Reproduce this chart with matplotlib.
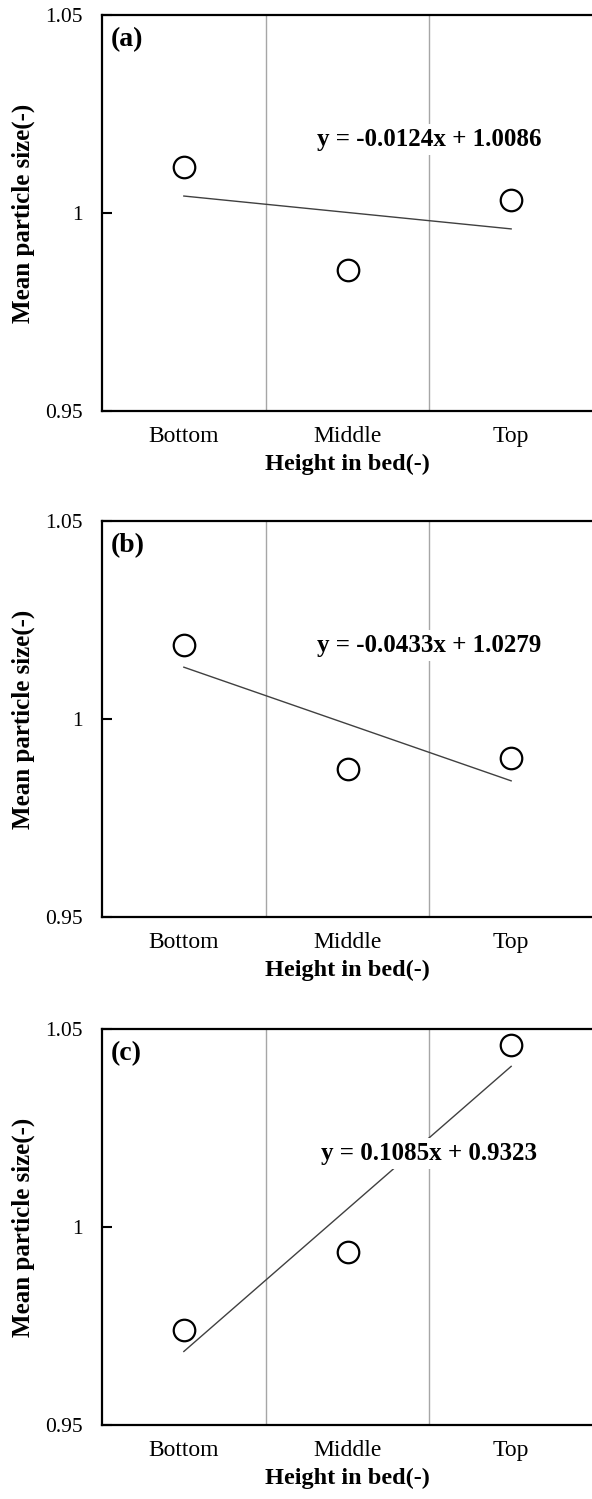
import numpy as np
import matplotlib
matplotlib.use("Agg")
from matplotlib import pyplot as plt

plt.rcParams['font.family'] = ['Liberation Serif', 'DejaVu Serif']

# data
heights = ["Bottom", "Middle", "Top"]
size_a = [1.0116, 0.9855, 1.0033]
size_b = [1.0188, 0.9873, 0.9901]
size_c = [0.9740, 0.9937, 1.0460]
panel_labels = ["(a)", "(b)", "(c)"]
equations = ["y = -0.0124x + 1.0086",
             "y = -0.0433x + 1.0279",
             "y = 0.1085x + 0.9323"]
yticks = [0.95, 1.0, 1.05]
ytick_labels = ["0.95", "1", "1.05"]

W, H = 592, 1499
fig = plt.figure(figsize=(W / 100, H / 100), dpi=100)

# axes boxes in pixels: (top, bottom)
boxes = [(15, 411), (521, 917), (1029, 1425)]
left_px, right_px = 102, 593

x = np.arange(1, len(heights) + 1)

for (top, bot), vals, lab, eq in zip(boxes, [size_a, size_b, size_c],
                                     panel_labels, equations):
    ax = fig.add_axes([left_px / W, 1 - bot / H,
                       (right_px - left_px) / W, (bot - top) / H])
    ax.set_xlim(0.5, 3.5)
    ax.set_ylim(0.95, 1.05)

    # category separators
    for gx in [1.5, 2.5]:
        ax.axvline(gx, color='#a6a6a6', lw=1.0, zorder=1)

    # linear trend
    k, b = np.polyfit(x, vals, 1)
    ax.plot(x, k * x + b, color='#404040', lw=1.0, zorder=2)

    ax.plot(x, vals, 'o', ms=15.5, mfc='white', mec='black', mew=1.6,
            zorder=3)

    ax.text(2.5, 1.0185, eq, ha='center', va='center', fontsize=18,
            fontweight='bold', zorder=4,
            bbox=dict(facecolor='white', edgecolor='none', pad=3))
    ax.text(0.018, 0.937, lab, transform=ax.transAxes, ha='left',
            va='center', fontsize=20, fontweight='bold')

    ax.set_xticks(x)
    ax.set_xticklabels(heights, fontsize=17)
    ax.tick_params(axis='x', length=0, pad=11)
    ax.set_yticks(yticks)
    ax.set_yticklabels(ytick_labels, fontsize=15.5)
    ax.tick_params(axis='y', direction='in', length=7, width=1.5, pad=14)

    for s in ['left', 'bottom', 'top']:
        ax.spines[s].set_linewidth(1.6)
        ax.spines[s].set_color('black')
    ax.spines['right'].set_visible(False)

    ax.set_xlabel("Height in bed(-)", fontsize=17.5, fontweight='bold',
                  labelpad=5)
    ax.set_ylabel("Mean particle size(-)", fontsize=18, fontweight='bold',
                  labelpad=7)

fig.savefig("out.png", dpi=100)
